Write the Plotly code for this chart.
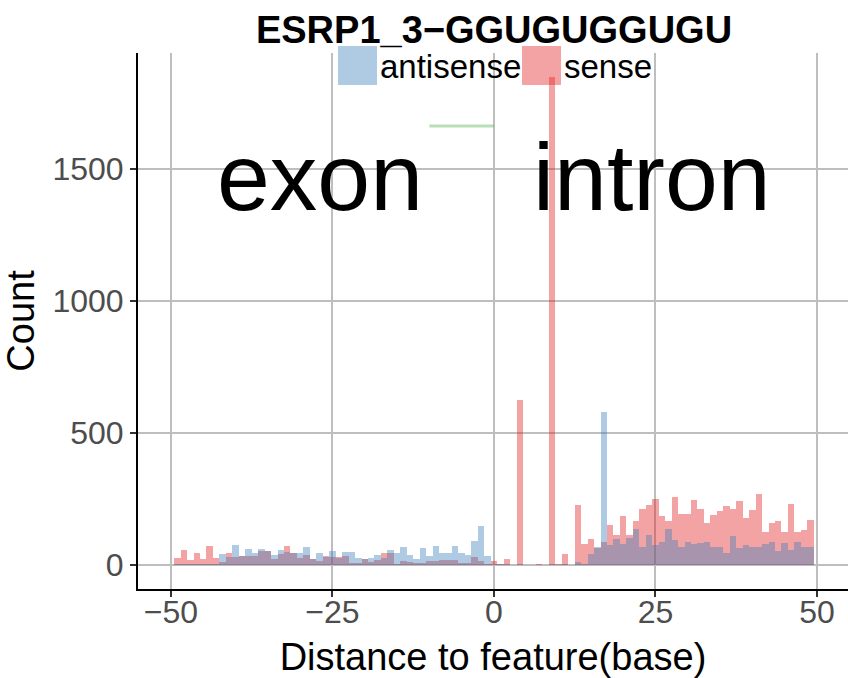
import plotly.graph_objects as go

# ---- data ----
positions = list(range(-49, 50))
sense = [27, 57, 19, 45, 23, 72, 27, 9, 45, 30,
         34, 35, 35, 53, 53, 20, 42, 72, 43, 27,
         38, 21, 15, 34, 30, 30, 35, 6, 8, 23,
         11, 19, 45, 45, 4, 15, 11, 8, 8, 15,
         15, 19, 19, 19, 8, 8, 30, 15, 4, 14,
         3, 20, 0, 625, 0, 0, 3, 0, 1848, 2,
         39, 0, 225, 77, 96, 64, 86, 149, 111, 183,
         111, 164, 210, 225, 251, 183, 164, 255, 191, 194,
         244, 213, 160, 187, 202, 221, 210, 240, 179, 206,
         270, 123, 157, 164, 126, 229, 123, 130, 168]
antisense = [3, 3, 2, 2, 2, 3, 3, 42, 30, 76,
             35, 61, 45, 61, 52, 38, 57, 49, 44, 45,
             68, 23, 45, 30, 53, 27, 49, 49, 27, 23,
             27, 38, 27, 55, 45, 68, 38, 23, 64, 34,
             72, 45, 45, 72, 45, 38, 91, 148, 34, 2,
             1, 3, 0, 2, 0, 0, 0, 0, 2, 0,
             2, 0, 10, 4, 39, 66, 580, 73, 96, 77,
             100, 134, 69, 111, 73, 88, 134, 92, 69, 88,
             77, 81, 85, 66, 69, 43, 108, 62, 73, 66,
             66, 77, 85, 51, 81, 54, 88, 66, 66]
segment_x = [-10, 0]
segment_y = [1663, 1663]
labels = [("exon", -27, 1470), ("intron", 24.4, 1470)]
title = "ESRP1_3\u2212GGUGUGGUGU"
series_names = ["antisense", "sense"]
x_ticks = [-50, -25, 0, 25, 50]
y_ticks = [0, 500, 1000, 1500]

BLUE = "rgba(55,126,184,0.4)"
RED = "rgba(228,26,28,0.4)"
GREEN = "rgba(77,175,74,0.4)"
FONT = "Liberation Sans, Arial, sans-serif"

fig = go.Figure()
fig.add_trace(go.Bar(x=positions, y=sense, name="sense", width=1,
                     marker=dict(color=RED, line=dict(width=0)), showlegend=False))
fig.add_trace(go.Bar(x=positions, y=antisense, name="antisense", width=1,
                     marker=dict(color=BLUE, line=dict(width=0)), showlegend=False))
fig.add_trace(go.Scatter(x=segment_x, y=segment_y, mode="lines",
                         line=dict(color=GREEN, width=3), showlegend=False))

for txt, xv, yv in labels:
    fig.add_annotation(x=xv, y=yv, xref="x", yref="y", text=txt, showarrow=False,
                       font=dict(size=95, color="black", family=FONT),
                       xanchor="center", yanchor="middle")

# plot area in pixels: x 138..848, y 53..589
def pxx(p):
    return (p - 138) / 710.0

def pxy(p):
    return (589 - p) / 536.0

legend_items = [(series_names[0], BLUE, 338), (series_names[1], RED, 522)]
for name, col, x0 in legend_items:
    fig.add_shape(type="rect", xref="paper", yref="paper",
                  x0=pxx(x0), x1=pxx(x0 + 39), y0=pxy(85), y1=pxy(46),
                  fillcolor=col, line=dict(width=0), layer="above")
    fig.add_annotation(x=pxx(x0 + 40), y=pxy(66), xref="paper", yref="paper",
                       text=name, showarrow=False, xanchor="left", yanchor="middle",
                       font=dict(size=33, color="black", family=FONT))

fig.update_layout(
    width=848, height=678,
    margin=dict(l=138, r=0, t=53, b=89, autoexpand=False),
    paper_bgcolor="white", plot_bgcolor="white",
    barmode="overlay", bargap=0,
    font=dict(family=FONT, color="black"),
    title=dict(text="<b>" + title + "</b>", x=494 / 848, xref="container",
               xanchor="center", y=1 - 30 / 678, yref="container", yanchor="middle",
               font=dict(size=38, color="black", family=FONT)),
    xaxis=dict(range=[-55.1, 54.8], tickvals=x_ticks, showgrid=True,
               gridcolor="#bebebe", gridwidth=2, zeroline=False,
               showline=True, linecolor="black", linewidth=2,
               ticks="outside", ticklen=6, tickwidth=2, tickcolor="#333333",
               ticklabelstandoff=-12,
               tickfont=dict(size=32, color="#4d4d4d"),
               title=dict(text="Distance to feature(base)", font=dict(size=38, color="black"),
                          standoff=14)),
    yaxis=dict(range=[-92, 1940], tickvals=y_ticks, showgrid=True,
               gridcolor="#bebebe", gridwidth=2, zeroline=False,
               showline=True, linecolor="black", linewidth=2,
               ticks="outside", ticklen=6, tickwidth=2, tickcolor="#333333",
               tickfont=dict(size=32, color="#4d4d4d"),
               title=dict(text="Count", font=dict(size=38, color="black"), standoff=10)),
)

fig.write_html("out.html", config={"displayModeBar": False},
               post_script="document.body.style.margin='0';")
